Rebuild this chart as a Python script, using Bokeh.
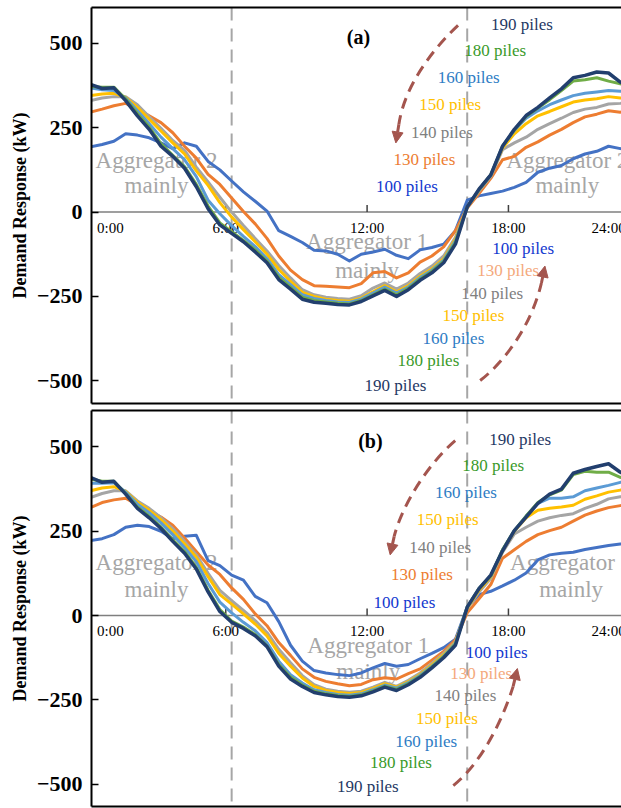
from bokeh.plotting import figure
from bokeh.models import (ColumnDataSource, Span, FixedTicker, LinearAxis, Range1d,
                          Arrow, NormalHead)
from bokeh.layouts import column
from bokeh.embed import file_html
from bokeh.resources import INLINE
from bokeh.core.properties import value

SERIF = "'Liberation Serif', 'Times New Roman', 'DejaVu Serif', serif"

# ---------------- data ----------------
hours = [0.25, 0.75, 1.25, 1.75, 2.25, 2.75, 3.25, 3.75, 4.25, 4.75,
         5.25, 5.75, 6.25, 6.75, 7.25, 7.75, 8.25, 8.75, 9.25, 9.75,
         10.25, 10.75, 11.25, 11.75, 12.25, 12.75, 13.25, 13.75, 14.25, 14.75,
         15.25, 15.75, 16.25, 16.75, 17.25, 17.75, 18.25, 18.75, 19.25, 19.75,
         20.25, 20.75, 21.25, 21.75, 22.25, 22.75, 23.25]

pile_names = ["100 piles", "130 piles", "140 piles", "150 piles", "160 piles", "180 piles", "190 piles"]

# panel (a)
a100 = [193, 200, 210, 232, 228, 220, 205, 188, 205, 195, 150, 125, 92, 60, 32, 3, -55, -72, -90, -113,
        -115, -125, -145, -125, -118, -110, -128, -138, -112, -105, -95, -55, 35, 48, 55, 62, 73, 88, 118, 130,
        138, 158, 172, 180, 195, 188, 185]
a130 = [296, 305, 315, 322, 305, 285, 265, 235, 195, 160, 112, 82, 42, 2, -35, -78, -130, -172, -200, -218,
        -220, -222, -224, -212, -180, -176, -195, -180, -148, -130, -103, -55, 12, 55, 100, 155, 165, 192, 208, 228,
        245, 265, 282, 290, 300, 296, 300]
a140 = [330, 338, 342, 342, 318, 282, 248, 212, 183, 133, 89, 44, 0, -40, -78, -115, -158, -195, -230, -245,
        -252, -256, -258, -248, -225, -210, -228, -210, -182, -160, -130, -75, 15, 62, 105, 185, 205, 222, 245, 262,
        278, 295, 305, 310, 320, 322, 325]
a150 = [345, 350, 352, 340, 310, 275, 240, 205, 172, 122, 79, 28, -15, -52, -88, -125, -170, -205, -238, -250,
        -258, -262, -264, -255, -236, -218, -236, -218, -190, -168, -138, -80, 15, 66, 110, 190, 232, 262, 285, 298,
        312, 326, 332, 336, 342, 338, 340]
a160 = [368, 362, 360, 338, 300, 262, 222, 188, 155, 105, 35, -5, -40, -72, -102, -138, -185, -215, -245, -256,
        -262, -266, -268, -258, -240, -222, -240, -222, -194, -172, -142, -85, 15, 66, 110, 195, 242, 278, 300, 318,
        332, 345, 352, 356, 360, 358, 360]
a180 = [372, 370, 370, 335, 292, 252, 203, 168, 135, 82, 18, -32, -58, -84, -112, -145, -193, -222, -252, -262,
        -266, -270, -272, -262, -245, -228, -245, -226, -198, -176, -146, -90, 15, 66, 110, 195, 243, 283, 308, 333,
        360, 388, 392, 398, 388, 380, 372]
a190 = [378, 366, 368, 330, 285, 245, 195, 165, 130, 75, 10, -38, -63, -88, -118, -150, -200, -228, -258, -267,
        -270, -274, -275, -265, -248, -232, -250, -230, -202, -180, -150, -95, 15, 68, 110, 195, 245, 286, 310, 338,
        365, 398, 405, 415, 412, 385, 370]

# panel (b)
b100 = [222, 228, 240, 262, 268, 264, 250, 228, 235, 238, 163, 148, 120, 105, 57, 38, -18, -88, -135, -163,
        -170, -175, -178, -170, -155, -142, -150, -145, -128, -112, -95, -70, 25, 62, 72, 88, 105, 126, 165, 180,
        185, 188, 196, 202, 208, 212, 215]
b130 = [320, 335, 343, 348, 328, 310, 292, 268, 230, 190, 150, 122, 82, 48, 5, -30, -80, -118, -158, -183,
        -195, -202, -208, -204, -190, -184, -188, -172, -158, -132, -106, -72, 8, 50, 92, 170, 195, 220, 240, 252,
        262, 280, 298, 310, 320, 326, 330]
b140 = [350, 362, 370, 370, 340, 318, 290, 258, 220, 180, 125, 75, 44, 15, -15, -50, -100, -140, -178, -205,
        -218, -224, -227, -224, -212, -198, -210, -192, -170, -142, -112, -78, 20, 70, 110, 188, 242, 262, 280, 290,
        297, 302, 318, 330, 346, 352, 355]
b150 = [370, 378, 382, 368, 336, 312, 284, 250, 212, 172, 115, 62, 34, 5, -25, -60, -112, -150, -185, -210,
        -222, -228, -231, -228, -216, -202, -212, -196, -174, -146, -116, -80, 22, 75, 115, 192, 250, 290, 312, 318,
        322, 327, 345, 355, 366, 372, 375]
b160 = [392, 392, 394, 366, 330, 305, 275, 240, 202, 160, 95, 40, 8, -20, -45, -80, -135, -175, -200, -220,
        -228, -234, -236, -232, -220, -206, -215, -199, -177, -150, -120, -82, 25, 80, 118, 195, 252, 295, 333, 348,
        348, 352, 370, 378, 386, 395, 398]
b180 = [405, 398, 398, 362, 322, 295, 262, 225, 190, 143, 75, 18, -16, -34, -56, -90, -145, -182, -206, -224,
        -232, -237, -240, -235, -223, -209, -219, -202, -180, -152, -122, -85, 25, 80, 118, 195, 252, 295, 335, 358,
        372, 418, 428, 425, 425, 410, 400]
b190 = [410, 395, 398, 360, 318, 290, 258, 220, 185, 138, 70, 12, -20, -38, -60, -92, -150, -188, -210, -228,
        -235, -240, -242, -238, -226, -212, -222, -205, -183, -155, -125, -88, 25, 80, 120, 192, 252, 292, 333, 360,
        375, 422, 433, 442, 450, 425, 410]

y_ticks = [-500, -250, 0, 250, 500]
x_tick_hours = [6, 12, 18]
x_tick_labels = ["0:00", "6:00", "12:00", "18:00", "24:00"]
event_hours = [6.25, 16.25]

# ---------------- styles ----------------
line_colors = ["#4472C4", "#ED7D31", "#A5A5A5", "#FFC000", "#5B9BD5", "#70AD47", "#223F6E"]
line_widths = [3, 3, 3, 3, 3, 3, 3.5]
upper_label_colors = ["#1238CF", "#ED7D31", "#808080", "#FFC000", "#2E7CC4", "#3A9A2A", "#1F3864"]
lower_label_colors = ["#1238CF", "#F4A97C", "#808080", "#FFC000", "#2E7CC4", "#3A9A2A", "#1F3864"]
ARROW_C = "#A4554E"
AGG_C = "#A6A6A6"

x_tick_label_pos = [1.1, 6.0, 12.0, 18.0, 22.25]

panels = [
    dict(series=[a100, a130, a140, a150, a160, a180, a190], tag="(a)", tag_pos=(11.63, 520),
         yr=(-567, 606), height=406, mbt=7, mbb=3,
         upper=[(13.69, 76), (14.43, 156), (15.18, 237), (15.53, 319), (16.31, 400), (17.44, 479), (18.57, 556)],
         lower=[(18.63, -108), (17.99, -173), (17.31, -241), (16.51, -306), (15.66, -374), (14.6, -439), (13.2, -514)],
         agg=[("Aggregator 2", 3.06, 153), ("mainly", 3.06, 79),
              ("Aggregator 1", 12.0, -87), ("mainly", 12.0, -173),
              ("Aggregator 2", 20.5, 153), ("mainly", 20.5, 79)],
         arrows=[((15.86, 553), (14.9, 490), (13.6, 380), (13.35, 260), (13.22, 205)),
                 ((16.8, -499), (17.9, -440), (19.0, -330), (19.4, -210), (19.55, -160))]),
    dict(series=[b100, b130, b140, b150, b160, b180, b190], tag="(b)", tag_pos=(12.14, 519),
         yr=(-566, 608), height=402, mbt=4, mbb=2,
         upper=[(13.58, 39), (14.33, 122), (15.1, 203), (15.42, 285), (16.2, 366), (17.35, 446), (18.5, 522)],
         lower=[(17.5, -109), (16.84, -172), (16.17, -237), (15.39, -306), (14.51, -374), (13.44, -437), (12.03, -506)],
         agg=[("Aggregator 2", 3.06, 157), ("mainly", 3.06, 77),
              ("Aggregator 1", 12.05, -89), ("mainly", 12.05, -166),
              ("Aggregator 2", 20.66, 157), ("mainly", 20.66, 77)],
         arrows=[((15.74, 519), (14.6, 450), (13.5, 330), (13.15, 235), (12.98, 180)),
                 ((15.66, -504), (16.8, -440), (17.7, -320), (18.2, -210), (18.38, -157))]),
]


def make_panel(cfg):
    p = figure(width=621, height=cfg["height"], output_backend="svg", toolbar_location=None,
               x_range=Range1d(0.3, 22.8), y_range=Range1d(*cfg["yr"]),
               x_axis_location=None, min_border_left=91, min_border_right=0,
               min_border_top=cfg["mbt"], min_border_bottom=cfg["mbb"])
    p.outline_line_color = None
    p.xgrid.grid_line_color = None
    p.ygrid.grid_line_color = None
    p.background_fill_color = "white"
    p.border_fill_color = "white"

    # y axis (left border)
    ya = p.yaxis[0]
    ya.ticker = FixedTicker(ticks=y_ticks)
    ya.axis_line_width = 2
    ya.axis_line_color = "black"
    ya.major_tick_in = 7
    ya.major_tick_out = 0
    ya.minor_tick_in = 0
    ya.minor_tick_out = 0
    ya.major_tick_line_color = "black"
    ya.major_tick_line_width = 1.5
    ya.major_label_text_font = SERIF
    ya.major_label_text_font_style = "bold"
    ya.major_label_text_font_size = "22px"
    ya.major_label_text_color = "black"
    ya.major_label_standoff = 9
    ya.axis_label = "Demand Response (kW)"
    ya.axis_label_text_font = SERIF
    ya.axis_label_text_font_style = "bold"
    ya.axis_label_text_font_size = "18px"
    ya.axis_label_text_color = "black"
    ya.axis_label_standoff = 4

    # top / bottom borders
    for side in ("above", "below"):
        ax = LinearAxis(ticker=FixedTicker(ticks=[]), axis_line_width=2, axis_line_color="black",
                        major_tick_in=0, major_tick_out=0, minor_tick_in=0, minor_tick_out=0,
                        major_label_standoff=0, major_label_text_font_size="0px")
        p.add_layout(ax, side)

    # zero line and event lines
    p.add_layout(Span(location=0, dimension="width", line_color="#7F7F7F", line_width=1.5, level="underlay"))
    for h in event_hours:
        p.add_layout(Span(location=h, dimension="height", line_color="#A6A6A6", line_width=2,
                          line_dash="13 8", level="underlay"))

    # x ticks on zero line
    p.segment(x0=x_tick_hours, y0=[0] * len(x_tick_hours), x1=x_tick_hours, y1=[21] * len(x_tick_hours),
              line_color="#404040", line_width=1.5)
    p.text(x=x_tick_label_pos, y=[-47] * len(x_tick_label_pos), text=x_tick_labels,
           text_font=value(SERIF), text_font_size="15px", text_color="black",
           text_align="center", text_baseline="middle")

    # aggregator annotations (beneath the curves)
    agg_src = ColumnDataSource(dict(x=[a[1] for a in cfg["agg"]], y=[a[2] for a in cfg["agg"]],
                                    t=[a[0] for a in cfg["agg"]]))
    p.text(x="x", y="y", text="t", source=agg_src, text_font=value(SERIF), text_font_size="23px",
           text_color=AGG_C, text_align="center", text_baseline="middle")

    # series
    for vals, col, lw in zip(cfg["series"], line_colors, line_widths):
        p.line(hours, vals, line_color=col, line_width=lw, line_join="round")

    # pile labels
    for pos, cols in ((cfg["upper"], upper_label_colors), (cfg["lower"], lower_label_colors)):
        src = ColumnDataSource(dict(x=[q[0] for q in pos], y=[q[1] for q in pos], t=pile_names, c=cols))
        p.text(x="x", y="y", text="t", text_color="c", source=src, text_font=value(SERIF),
               text_font_size="17px", text_align="center", text_baseline="middle")

    # panel tag
    p.text(x=[cfg["tag_pos"][0]], y=[cfg["tag_pos"][1]], text=[cfg["tag"]], text_font=value(SERIF),
           text_font_style="bold", text_font_size="20px", text_color="black",
           text_align="center", text_baseline="middle")

    # curved dashed arrows
    for (s, c0, c1, e, tip) in cfg["arrows"]:
        p.bezier(x0=[s[0]], y0=[s[1]], x1=[e[0]], y1=[e[1]], cx0=[c0[0]], cy0=[c0[1]],
                 cx1=[c1[0]], cy1=[c1[1]], line_color=ARROW_C, line_width=3, line_dash="11 7")
        p.add_layout(Arrow(end=NormalHead(size=11, fill_color=ARROW_C, line_color=ARROW_C),
                           x_start=e[0], y_start=e[1], x_end=tip[0], y_end=tip[1],
                           line_color=ARROW_C, line_width=3))
    return p


figs = [make_panel(c) for c in panels]
layout = column(*figs, spacing=0)
open("out.html", "w").write(file_html(layout, INLINE))
